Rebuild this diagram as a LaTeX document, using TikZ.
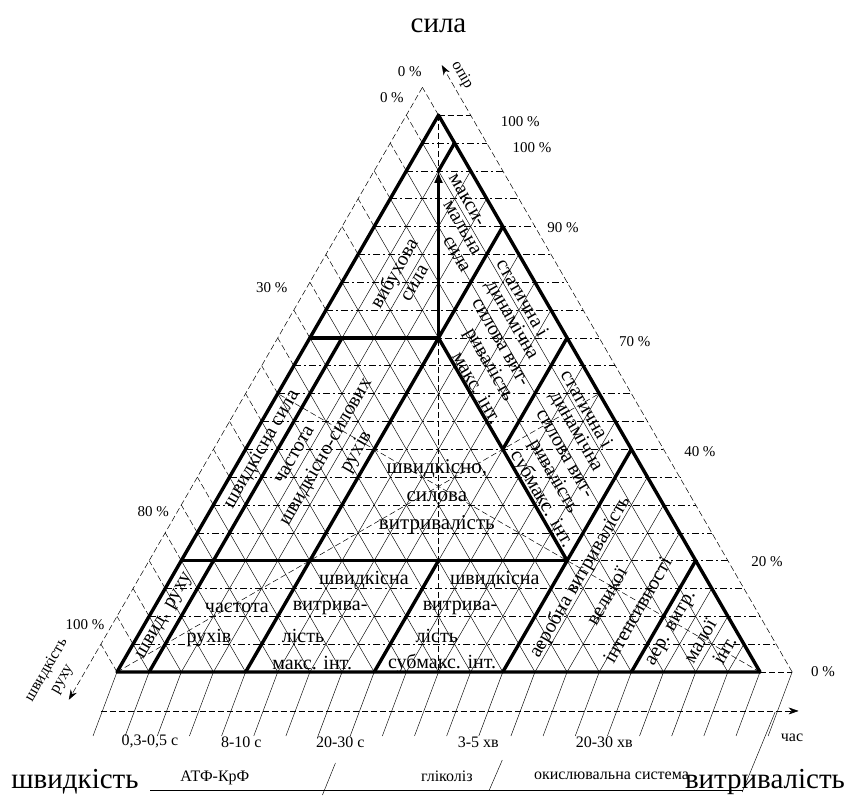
\documentclass[tikz,border=0pt]{standalone}
\usepackage{fontspec}
\setmainfont{Liberation Serif}
\usetikzlibrary{arrows.meta,positioning}

\tikzset{
  bnd/.style={line width=3.4pt, line cap=round, line join=round},
  gridln/.style={line width=0.45pt},
  hgrid/.style={line width=0.55pt, dash pattern=on 7pt off 3pt on 2pt off 3pt},
  ext/.style={line width=0.5pt, dash pattern=on 6pt off 3pt},
  zone/.style={font=\fontsize{20}{21}\selectfont, align=center, inner sep=0pt},
  pct/.style={font=\fontsize{15}{17}\selectfont, inner sep=0pt},
  scl/.style={font=\fontsize{16}{18}\selectfont, inner sep=0pt},
  big/.style={font=\fontsize{29}{31}\selectfont, inner sep=0pt},
}

\begin{document}
\begin{tikzpicture}[x={(32.15pt,0pt)}, y={(16.075pt,27.84pt)}]
  \useasboundingbox (-117pt,-127pt) rectangle (730pt,672pt);
  \coordinate (A) at (0,0);
  \coordinate (B) at (20,0);
  \coordinate (C) at (0,20);

  % triangular grid
  \foreach \k in {1,...,19} {
    \draw[hgrid] (0,\k) -- (21-\k,\k);
    \draw[gridln] (\k,0) -- (\k,20-\k);
    \draw[gridln] (\k,0) -- (0,\k);
    \draw[ext] (0,\k) -- (-1,\k+1);
  }
  \draw[ext] (B) -- (21,0);
  \draw[ext] (C) -- (1,20);
  \draw[ext] (C) -- (-1,21);
  \draw[ext] (A) -- (-1,1);

  % medians
  \draw[ext] (A) -- (10,10);
  \draw[ext] (B) -- (0,10);
  \draw[ext] (C) -- (10,0);

  % scales
  \draw[ext, -{Stealth[length=10pt,width=7pt]}] (-1,21) -- (-1,-1);
  \draw[ext, -{Stealth[length=10pt,width=7pt]}] (21,0) -- (-0.8,21.8);
  \foreach \k in {0,...,21}
    \draw[gridln] (\k,0) -- ++(-24pt,-64pt);
  \draw[ext, -{Stealth[length=10pt,width=7pt]}] (0.2,-1.4) -- (21.9,-1.4);
  \draw[gridln] (3.15,-4.24) -- (21.6,-4.24);
  \draw[gridln] (8.6,-4.42) -- ++(13pt,32pt);
  \draw[gridln] (13.7,-4.24) -- ++(13pt,30pt);
  \draw[gridln] (21.6,-4.31) -- ++(33pt,80pt);

  % zone borders
  \draw[bnd] (A) -- (B) -- (C) -- cycle;
  \draw[bnd] (1,0) -- (1,12);
  \draw[bnd] (4,0) -- (4,12);
  \draw[bnd] (8,0) -- (8,4);
  \draw[bnd] (12,0) -- (12,8);
  \draw[bnd] (16,0) -- (16,4);
  \draw[bnd] (0,4) -- (12,4);
  \draw[bnd] (0,12) -- (4,12);
  \draw[bnd] (4,12) -- (12,4);
  \draw[bnd] (4,12) -- (4,16);
  \draw[bnd] (8,8) -- (8,12);
  \draw[bnd] (1,19) -- (1,18);
  \draw[bnd, -{Latex[length=12pt,width=9pt]}] (4,12) -- (1,18);

  % zone names, upper part
  \node[zone, rotate=60] (vyb1) at (1.5,14.3) {вибухова};
  \node[zone, rotate=60] (vyb2) at (2.3,13.95) {сила};
  \node[zone, rotate=-60] (mak1) at (2.4,16.95) {макси-};
  \node[zone, rotate=-60] (mak2) at (2.75,15.95) {мальна};
  \node[zone, rotate=-60] (mak3) at (3.05,15.0) {сила};
  \node[zone, rotate=-60] (sa1) at (5.9,13.45) {статична і};
  \node[zone, rotate=-60] (sa2) at (5.95,12.64) {динамічна};
  \node[zone, rotate=-60] (sa3) at (6,11.83) {силова вит-};
  \node[zone, rotate=-60] (sa4) at (6.05,11.02) {ривалість};
  \node[zone, rotate=-60] (sa5) at (6.1,10.21) {макс. інт.};
  \node[zone, rotate=-60] (sb1) at (9.9,9.45) {статична і};
  \node[zone, rotate=-60] (sb2) at (9.95,8.64) {динамічна};
  \node[zone, rotate=-60] (sb3) at (10,7.83) {силова вит-};
  \node[zone, rotate=-60] (sb4) at (10.05,7.02) {ривалість};
  \node[zone, rotate=-60] (sb5) at (10.1,6.21) {субмакс. інт.};
  \node[zone, rotate=60] (shs) at (0.5,8) {швидкісна сила};
  \node[zone, rotate=60] (cs1) at (1.62,7.8) {частота};
  \node[zone, rotate=60] (cs2) at (2.55,7.9) {швидкісно-силових};
  \node[zone, rotate=60] (cs3) at (3.5,7.9) {рухів};
  \node[zone, font=\fontsize{21}{28}\selectfont] (shsv) at (6.8,6.3)
    {швидкісно,\\силова\\витривалість};

  % zone names, lower row
  \node[zone, rotate=60] (shr) at (0.5,2) {швид. руху};
  \node[zone] (chr1) at (2.58,2.3) {частота};
  \node[zone] (chr2) at (2.25,1.22) {рухів};
  \node[zone] (sv1a) at (6.03,3.3) {швидкісна};
  \node[zone] (sv1b) at (5.48,2.3) {витрива-};
  \node[zone] (sv1c) at (5.14,1.29) {лість};
  \node[zone] (sv1d) at (5.91,0.32) {макс. інт.};
  \node[zone] (sv2a) at (10.1,3.3) {швидкісна};
  \node[zone] (sv2b) at (9.52,2.3) {витрива-};
  \node[zone] (sv2c) at (9.3,1.29) {лість};
  \node[zone] (sv2d) at (9.95,0.32) {субмакс. інт.};
  \node[zone, rotate=60] (aer1) at (12.7,3.41) {аеробна витривалість};
  \node[zone, rotate=60] (aer2) at (13.87,2.73) {великої};
  \node[zone, rotate=60] (aer3) at (15.07,2.23) {інтенсивності};
  \node[zone, rotate=60] (aml1) at (16.5,1.55) {аер. витр.};
  \node[zone, rotate=60] (aml2) at (17.58,1.11) {малої};
  \node[zone, rotate=60] (aml3) at (18.5,0.79) {інт.};

  % scale labels
  \node[pct] (r100a) at (2.66,19.76) {100 \%};
  \node[pct] (r100b) at (3.5,18.82) {100 \%};
  \node[pct] (r90) at (5.9,15.95) {90 \%};
  \node[pct] (r70) at (10.18,11.85) {70 \%};
  \node[pct] (r40) at (14.18,7.9) {40 \%};
  \node[pct] (r20) at (18.24,3.95) {20 \%};
  \node[pct] (r0) at (21.96,0) {0 \%};
  \node[pct] (l0a) at (-1.67,21.55) {0 \%};
  \node[pct] (l0b) at (-1.76,20.62) {0 \%};
  \node[pct] (l30) at (-2.08,13.79) {30 \%};
  \node[pct] (l80) at (-1.75,5.75) {80 \%};
  \node[pct] (l100) at (-1.84,1.69) {100 \%};
  \node[scl, rotate=-60] (opir) at (0.01,21.44) {опір};
  \node[scl, rotate=60, align=center] (shvr) at (-1.9,-0.1) {швидкість\\руху};
  \node[scl] (chas) at (22.18,-2.37) {час};
  \node[scl] (t1) at (2.28,-2.51) {0,3-0,5 с};
  \node[scl] (t2) at (5.12,-2.51) {8-10 с};
  \node[scl] (t3) at (8.2,-2.51) {20-30 с};
  \node[scl] (t4) at (12.49,-2.51) {3-5 хв};
  \node[scl] (t5) at (16.41,-2.51) {20-30 хв};
  \node[scl] (atf) at (4.95,-3.81) {АТФ-КрФ};
  \node[scl] (glik) at (12.13,-3.74) {гліколіз};
  \node[scl] (oksy) at (17.25,-3.74) {окислювальна система};

  \node[big] (sila) at ([yshift=89pt]C) {сила};
  \node[big] (shvyd) at ([xshift=-42pt,yshift=-110pt]A) {швидкість};
  \node[big] (vytr) at ([xshift=5pt,yshift=-110pt]B) {витривалість};
\end{tikzpicture}
\end{document}
